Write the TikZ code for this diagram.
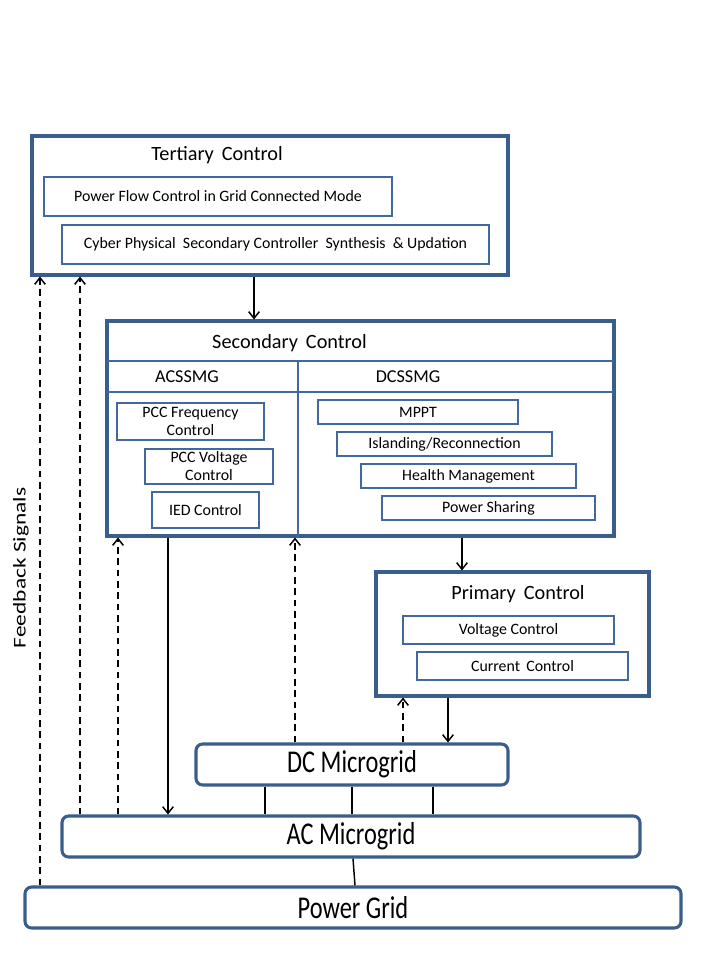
\documentclass[tikz,border=0pt]{standalone}
\usepackage{fontspec}
\setmainfont{Carlito}
\usetikzlibrary{arrows.meta,calc}
\definecolor{thickblue}{RGB}{58,94,140}
\definecolor{thinblue}{RGB}{66,104,158}
\tikzset{
  bigbox/.style={draw=thickblue, line width=2.3pt, inner sep=0pt, fill=white},
  smallbox/.style={draw=thinblue, line width=0.8pt, inner sep=0pt, align=center, font=\fontsize{11.9}{13.5}\selectfont},
  gridbox/.style={draw=thickblue, line width=2.3pt, rounded corners=5pt, inner sep=0pt, font=\fontsize{18.3}{20}\selectfont},
  title/.style={inner sep=0pt, font=\fontsize{15.2}{18}\selectfont},
  subtitle/.style={inner sep=0pt, font=\fontsize{13.6}{16}\selectfont},
  divline/.style={draw=thinblue, line width=0.8pt},
  arr/.style={line width=1.1pt, -{Straight Barb[length=5pt,width=8pt,line width=1.1pt]}},
  darr/.style={arr, dash pattern=on 5pt off 3.5pt},
  link/.style={line width=1.1pt}
}
\begin{document}
\begin{tikzpicture}[x=0.75pt,y=-0.75pt]
\path[use as bounding box, fill=white] (0,0) rectangle (720,960);
% Tertiary
\node[bigbox, minimum width=357pt, minimum height=104.25pt] (T) at (270,205.5) {};
\node[title] (Tt) at (217,155) {Tertiary\, Control};
\node[smallbox, minimum width=261pt, minimum height=29.25pt] (PF) at (218,196.5) {Power Flow Control in Grid Connected Mode};
\node[smallbox, minimum width=320.25pt, minimum height=29.25pt] (CP) at (275.5,244.5) {Cyber Physical\ \ Secondary Controller\ \ Synthesis\ \ \& Updation};
% Secondary
\node[bigbox, minimum width=380.25pt, minimum height=161.25pt] (S) at (360.5,428.5) {};
\node[title] (St) at (289.5,343) {Secondary\, Control};
\coordinate (h1l) at (107,361); \coordinate (h1r) at (614,361);
\coordinate (h2l) at (107,392); \coordinate (h2r) at (614,392);
\draw[divline] (h1l) -- (h1r);
\draw[divline] (h2l) -- (h2r);
\draw[divline] (298,361) -- (S.south -| 298,0);
\node[subtitle] (AC1) at (187,377) {ACSSMG};
\node[subtitle] (DC1) at (408,377) {DCSSMG};
\node[smallbox, minimum width=110.25pt, minimum height=27.75pt] (PCCF) at (190.5,421.5) {PCC Frequency\\Control};
\node[smallbox, minimum width=96pt, minimum height=26.25pt] (PCCV) at (209,466.5) {PCC Voltage\\Control};
\node[smallbox, minimum width=80.25pt, minimum height=27pt] (IED) at (205.5,510) {IED Control};
\node[smallbox, minimum width=150pt, minimum height=18pt] (MPPT) at (418,412) {MPPT};
\node[smallbox, minimum width=161.25pt, minimum height=18pt] (ISL) at (444.5,444) {Islanding/Reconnection};
\node[smallbox, minimum width=161.25pt, minimum height=18pt] (HM) at (468.5,476) {Health Management};
\node[smallbox, minimum width=159.75pt, minimum height=18pt] (PS) at (488.5,508) {Power Sharing};
% Primary
\node[bigbox, minimum width=204.75pt, minimum height=93pt] (P) at (512.5,634) {};
\node[title] (Pt) at (518,594) {Primary\, Control};
\node[smallbox, minimum width=158.25pt, minimum height=21pt] (VC) at (508.5,630) {Voltage Control};
\node[smallbox, minimum width=158.25pt, minimum height=21pt] (CC) at (522.5,666) {Current\, Control};
% Grids
\node[gridbox, minimum width=234pt, minimum height=30.75pt] (DC) at (352,764.5) {\scalebox{1}[1.3]{DC Microgrid}};
\node[gridbox, minimum width=433.5pt, minimum height=30.75pt] (AC) at (351,836.5) {\scalebox{1}[1.3]{AC Microgrid}};
\node[gridbox, minimum width=492pt, minimum height=30.75pt] (PG) at (353,907.5) {\scalebox{1}[1.3]{Power Grid}};
% Feedback label
\node[inner sep=0pt, rotate=90, font=\fontsize{13.5}{15}\selectfont] (FB) at (21,568) {\scalebox{1.3}[1]{Feedback Signals}};
% Connectors
\draw[arr] (T.south -| 254,0) -- (S.north -| 254,0);
\draw[arr] (S.south -| 462,0) -- (P.north -| 462,0);
\draw[arr] (P.south -| 448,0) -- (DC.north -| 448,0);
\draw[darr] (DC.north -| 403,0) -- (P.south -| 403,0);
\draw[arr] (S.south -| 168,0) -- (AC.north -| 168,0);
\draw[darr] (AC.north -| 118,0) -- (S.south -| 118,0);
\draw[darr] (DC.north -| 295,0) -- (S.south -| 295,0);
\draw[darr] (AC.north -| 80,0) -- (T.south -| 80,0);
\draw[darr] (PG.north -| 40,0) -- (T.south -| 40,0);
\draw[link] (DC.south -| 265,0) -- (AC.north -| 265,0);
\draw[link] (DC.south -| 352,0) -- (AC.north -| 352,0);
\draw[link] (DC.south -| 433,0) -- (AC.north -| 433,0);
\draw[link] (AC.south -| 353,0) -- (PG.north -| 355,0);
\end{tikzpicture}
\end{document}
